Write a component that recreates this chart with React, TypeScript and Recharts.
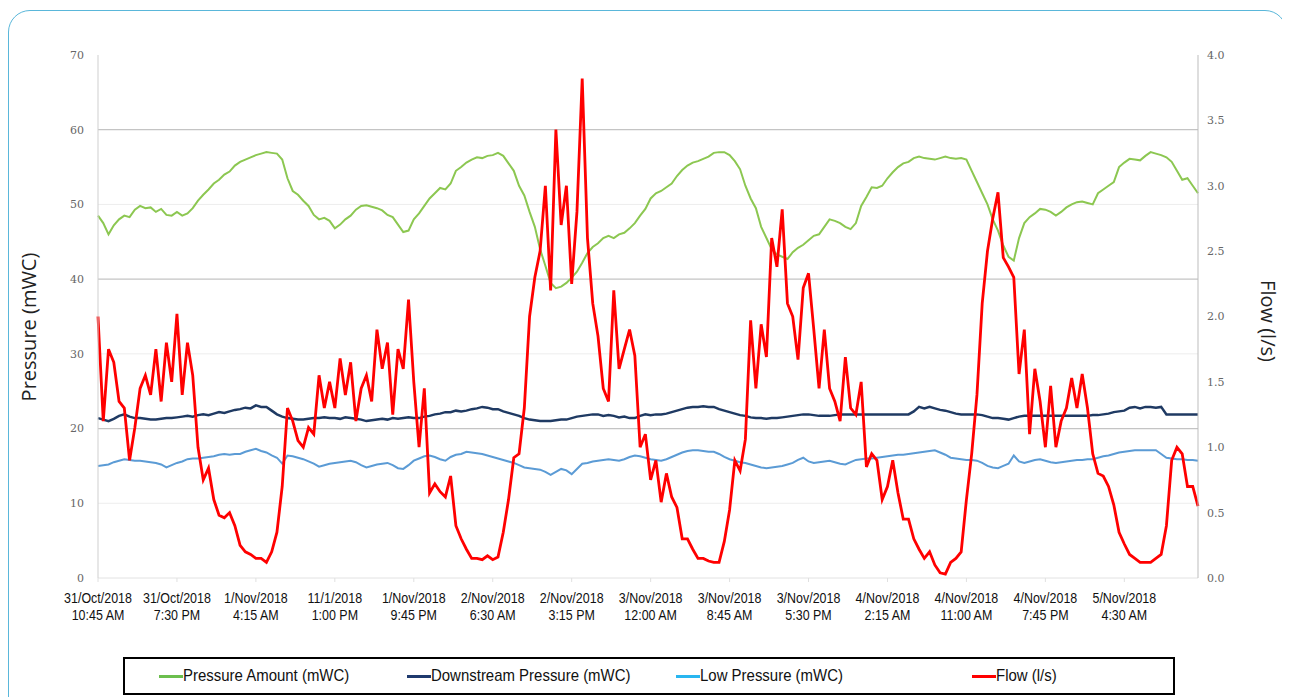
import React from 'react';
import { LineChart, Line, XAxis, YAxis, ReferenceLine } from 'recharts';

// one sample every 35 minutes, starting 31/Oct/2018 10:45 AM
const PRESSURE = [
  48.5, 47.5, 46.0, 47.2, 48.0, 48.5, 48.3, 49.3, 49.8, 49.5,
  49.6, 49.0, 49.4, 48.6, 48.5, 49.0, 48.5, 48.8, 49.5, 50.5,
  51.3, 52.0, 52.8, 53.3, 54.0, 54.4, 55.2, 55.7, 56.0, 56.3,
  56.6, 56.8, 57.0, 56.9, 56.8, 56.0, 53.5, 51.8, 51.3, 50.5,
  49.8, 48.6, 48.0, 48.2, 47.8, 46.8, 47.3, 48.0, 48.5, 49.3,
  49.8, 49.9, 49.7, 49.5, 49.2, 48.6, 48.3, 47.3, 46.3, 46.5,
  48.0, 48.8, 49.8, 50.8, 51.5, 52.2, 52.0, 52.8, 54.5, 55.0,
  55.6, 56.0, 56.3, 56.2, 56.5, 56.6, 56.9, 56.5, 55.5, 54.5,
  52.5, 51.2, 49.0, 47.0, 44.0, 41.8, 39.5, 38.8, 39.0, 39.5,
  40.2, 41.0, 42.2, 43.5, 44.3, 44.8, 45.5, 45.8, 45.5, 46.0,
  46.2, 46.8, 47.5, 48.5, 49.4, 50.8, 51.5, 51.8, 52.3, 52.8,
  53.8, 54.6, 55.2, 55.6, 55.8, 56.1, 56.4, 56.9, 57.0, 57.0,
  56.6, 55.8, 54.7, 52.5, 50.8, 49.5, 47.0, 45.5, 44.0, 43.3,
  43.0, 42.7, 43.6, 44.2, 44.6, 45.2, 45.8, 46.0, 47.0, 48.0,
  47.8, 47.5, 47.0, 46.7, 47.5, 49.8, 51.0, 52.3, 52.2, 52.5,
  53.5, 54.3, 55.0, 55.5, 55.7, 56.2, 56.4, 56.2, 56.1, 56.0,
  56.2, 56.4, 56.2, 56.1, 56.2, 56.0, 54.5, 53.0, 51.5, 50.0,
  48.0, 46.5, 44.5, 43.0, 42.5, 45.5, 47.5, 48.3, 48.8, 49.4,
  49.3, 49.0, 48.5, 49.0, 49.6, 50.0, 50.3, 50.4, 50.2, 50.0,
  51.5, 52.0, 52.5, 53.0, 55.0, 55.6, 56.1, 56.0, 55.9, 56.5,
  57.0, 56.8, 56.6, 56.3, 55.7, 54.5, 53.3, 53.5, 52.5, 51.5,
];

const DOWNSTREAM = [
  21.4, 21.2, 21.0, 21.3, 21.7, 21.9, 21.6, 21.4, 21.4, 21.3,
  21.2, 21.2, 21.3, 21.4, 21.4, 21.5, 21.6, 21.7, 21.6, 21.8,
  21.9, 21.8, 22.0, 22.2, 22.1, 22.3, 22.5, 22.6, 22.8, 22.7,
  23.1, 22.9, 22.9, 22.4, 21.9, 21.6, 21.4, 21.3, 21.2, 21.2,
  21.3, 21.4, 21.4, 21.5, 21.4, 21.4, 21.3, 21.5, 21.4, 21.3,
  21.2, 21.0, 21.1, 21.2, 21.3, 21.2, 21.4, 21.3, 21.4, 21.5,
  21.4, 21.4, 21.6, 21.7, 21.9, 22.0, 22.2, 22.2, 22.4, 22.3,
  22.4, 22.6, 22.7, 22.9, 22.8, 22.6, 22.6, 22.3, 22.1, 21.9,
  21.7, 21.4, 21.2, 21.1, 21.0, 21.0, 21.0, 21.1, 21.2, 21.2,
  21.4, 21.6, 21.7, 21.8, 21.9, 21.9, 21.7, 21.8, 21.7, 21.5,
  21.6, 21.4, 21.4, 21.7, 21.9, 21.8, 21.9, 21.9, 22.0, 22.2,
  22.4, 22.6, 22.8, 22.9, 22.9, 23.0, 22.9, 22.9, 22.6, 22.4,
  22.2, 22.0, 21.8, 21.7, 21.5, 21.4, 21.4, 21.3, 21.4, 21.4,
  21.5, 21.6, 21.7, 21.8, 21.9, 21.9, 21.8, 21.7, 21.7, 21.7,
  21.8, 21.9, 21.9, 21.9, 21.9, 21.9, 21.9, 21.9, 21.9, 21.9,
  21.9, 21.9, 21.9, 21.9, 21.9, 22.3, 22.9, 22.7, 22.9, 22.7,
  22.5, 22.4, 22.2, 22.0, 21.9, 21.9, 21.9, 21.9, 21.8, 21.6,
  21.4, 21.4, 21.3, 21.2, 21.4, 21.6, 21.7, 21.7, 21.7, 21.7,
  21.7, 21.7, 21.7, 21.7, 21.7, 21.7, 21.7, 21.7, 21.7, 21.8,
  21.8, 21.9, 22.0, 22.2, 22.3, 22.4, 22.8, 22.9, 22.7, 22.9,
  22.9, 22.8, 22.9, 21.9, 21.9, 21.9, 21.9, 21.9, 21.9, 21.9,
];

const LOW = [
  15.0, 15.1, 15.2, 15.5, 15.7, 15.9, 15.8, 15.7, 15.7, 15.6,
  15.5, 15.4, 15.2, 14.8, 15.1, 15.4, 15.6, 15.9, 16.0, 16.0,
  16.1, 16.2, 16.3, 16.5, 16.6, 16.5, 16.6, 16.6, 16.9, 17.1,
  17.3, 17.0, 16.8, 16.4, 16.1, 15.3, 16.4, 16.3, 16.1, 15.9,
  15.6, 15.3, 14.9, 15.1, 15.3, 15.4, 15.5, 15.6, 15.7, 15.5,
  15.1, 14.8, 15.0, 15.2, 15.3, 15.4, 15.1, 14.7, 14.6, 15.1,
  15.7, 16.0, 16.3, 16.4, 16.2, 15.9, 15.7, 16.2, 16.5, 16.6,
  16.9, 16.8, 16.7, 16.6, 16.4, 16.2, 16.0, 15.8, 15.6, 15.4,
  15.1, 14.8, 14.7, 14.6, 14.5, 14.2, 13.8, 14.2, 14.6, 14.4,
  13.9, 14.6, 15.3, 15.4, 15.6, 15.7, 15.8, 15.9, 15.8, 15.7,
  15.9, 16.2, 16.4, 16.3, 16.1, 15.9, 15.8, 15.7, 15.9, 16.2,
  16.5, 16.8, 17.0, 17.1, 17.1, 17.0, 16.9, 16.9, 16.6, 16.2,
  15.9, 15.7, 15.5, 15.4, 15.2, 15.0, 14.8, 14.7, 14.8, 14.9,
  15.0, 15.2, 15.4, 15.8, 16.1, 15.6, 15.4, 15.5, 15.6, 15.7,
  15.5, 15.3, 15.2, 15.5, 15.8, 15.9, 16.0, 16.0, 16.1, 16.2,
  16.3, 16.4, 16.5, 16.5, 16.6, 16.7, 16.8, 16.9, 17.0, 17.1,
  16.8, 16.5, 16.1, 16.0, 15.9, 15.8, 15.8, 15.7, 15.4, 15.0,
  14.8, 14.7, 15.0, 15.3, 16.4, 15.6, 15.4, 15.6, 15.8, 15.9,
  15.7, 15.5, 15.4, 15.5, 15.6, 15.7, 15.8, 15.8, 15.9, 15.9,
  16.1, 16.3, 16.4, 16.6, 16.8, 16.9, 17.0, 17.1, 17.1, 17.1,
  17.1, 17.1, 16.6, 16.1, 16.0, 15.9, 15.9, 15.8, 15.8, 15.7,
];

const FLOW = [
  2.0, 1.2, 1.75, 1.65, 1.35, 1.3, 0.9, 1.15, 1.45, 1.55,
  1.4, 1.75, 1.35, 1.8, 1.5, 2.02, 1.4, 1.8, 1.55, 1.0,
  0.75, 0.84, 0.6, 0.48, 0.46, 0.5, 0.4, 0.25, 0.2, 0.18,
  0.15, 0.15, 0.12, 0.2, 0.35, 0.7, 1.3, 1.2, 1.05, 1.0,
  1.15, 1.1, 1.55, 1.3, 1.5, 1.3, 1.68, 1.4, 1.65, 1.2,
  1.45, 1.55, 1.35, 1.9, 1.6, 1.8, 1.25, 1.75, 1.6, 2.13,
  1.5, 1.0, 1.45, 0.65, 0.72, 0.66, 0.62, 0.78, 0.4, 0.3,
  0.22, 0.15, 0.15, 0.14, 0.17, 0.14, 0.16, 0.35, 0.6, 0.92,
  0.95, 1.3, 2.0, 2.3, 2.5, 3.0, 2.2, 3.43, 2.7, 3.0,
  2.25, 2.8, 3.82, 2.6, 2.1, 1.85, 1.45, 1.35, 2.2, 1.6,
  1.75, 1.9, 1.7, 1.0, 1.1, 0.75, 0.9, 0.58, 0.8, 0.62,
  0.54, 0.3, 0.3, 0.22, 0.15, 0.15, 0.13, 0.12, 0.12, 0.28,
  0.52, 0.9, 0.82, 1.06, 1.97, 1.45, 1.94, 1.69, 2.6, 2.38,
  2.82, 2.1, 2.0, 1.67, 2.22, 2.33, 1.9, 1.45, 1.9, 1.45,
  1.35, 1.2, 1.69, 1.3, 1.25, 1.5, 0.85, 0.95, 0.9, 0.6,
  0.7, 0.9, 0.65, 0.45, 0.45, 0.3, 0.22, 0.15, 0.2, 0.1,
  0.04, 0.03, 0.12, 0.15, 0.2, 0.6, 0.95, 1.4, 2.1, 2.5,
  2.75, 2.95, 2.45, 2.38, 2.3, 1.56, 1.9, 1.1, 1.6, 1.35,
  1.0, 1.47, 1.0, 1.2, 1.3, 1.53, 1.3, 1.56, 1.3, 0.95,
  0.8, 0.78, 0.7, 0.56, 0.35, 0.26, 0.18, 0.15, 0.12, 0.12,
  0.12, 0.15, 0.18, 0.4, 0.9, 1.0, 0.95, 0.7, 0.7, 0.55,
];

const TICK_DATES = [
  '31/Oct/2018', '31/Oct/2018', '1/Nov/2018', '11/1/2018', '1/Nov/2018', '2/Nov/2018', '2/Nov/2018',
  '3/Nov/2018', '3/Nov/2018', '3/Nov/2018', '4/Nov/2018', '4/Nov/2018', '4/Nov/2018', '5/Nov/2018',
];
const TICK_TIMES = [
  '10:45 AM', '7:30 PM', '4:15 AM', '1:00 PM', '9:45 PM', '6:30 AM', '3:15 PM',
  '12:00 AM', '8:45 AM', '5:30 PM', '2:15 AM', '11:00 AM', '7:45 PM', '4:30 AM',
];
const STEPS_PER_TICK = 15;

const PRESSURE_TICKS = [0, 10, 20, 30, 40, 50, 60, 70];
const FLOW_TICKS = [0, 0.5, 1, 1.5, 2, 2.5, 3, 3.5, 4];
const MAJOR_LINES = [20, 40, 60];
const MINOR_LINES = [10, 30, 50];

const SERIES = [
  { key: 'p', name: 'Pressure Amount (mWC)', color: '#8cc751', legend: '#6cbf4e', axis: 'left', width: 2 },
  { key: 'd', name: 'Downstream Pressure (mWC)', color: '#1f3a63', legend: '#1f3a6e', axis: 'left', width: 2.5 },
  { key: 'l', name: 'Low Pressure (mWC)', color: '#5b9bd5', legend: '#29b6f0', axis: 'left', width: 2 },
  { key: 'f', name: 'Flow (l/s)', color: '#ff0000', legend: '#ff0000', axis: 'right', width: 2.8 },
];

const data = PRESSURE.map((p, i) => ({
  i,
  p,
  d: DOWNSTREAM[i],
  l: LOW[i],
  f: FLOW[i],
}));

const xTicks = TICK_DATES.map((_, k) => k * STEPS_PER_TICK);

const sans = "'Liberation Sans', Arial, sans-serif";

function TimeTick(props: any) {
  const { x, y, payload } = props;
  const k = Math.round(payload.value / STEPS_PER_TICK);
  // the source uses a condensed face; squeeze a regular one horizontally
  return (
    <g transform={`translate(${x},${y}) scale(0.86,1)`}>
      <text textAnchor="middle" fontFamily={sans} fontSize={14.5} fill="#111">
        <tspan x={0} dy={19}>{TICK_DATES[k]}</tspan>
        <tspan x={0} dy={17}>{TICK_TIMES[k]}</tspan>
      </text>
    </g>
  );
}

const legendPos = [34, 282, 551, 847];

export default function App() {
  return (
    <div style={{ position: 'relative', width: 1282, height: 689, overflow: 'hidden', background: '#fff' }}>
      <div
        style={{
          position: 'absolute',
          left: 0,
          top: 2,
          width: 1279,
          height: 760,
          border: '1.5px solid #5ab7da',
          borderRadius: 22,
          boxSizing: 'border-box',
        }}
      />
      <div style={{ position: 'absolute', left: 0, top: 0 }}>
        <LineChart width={1270} height={625} data={data} margin={{ top: 47, right: 0, bottom: 0, left: 0 }}>
          {MINOR_LINES.map((v) => (
            <ReferenceLine key={`mn${v}`} yAxisId="left" y={v} stroke="#ededed" strokeWidth={1} />
          ))}
          {MAJOR_LINES.map((v) => (
            <ReferenceLine key={`mj${v}`} yAxisId="left" y={v} stroke="#c4c4c4" strokeWidth={1.2} />
          ))}
          <XAxis
            dataKey="i"
            type="number"
            domain={[0, PRESSURE.length - 1]}
            ticks={xTicks}
            interval={0}
            tick={<TimeTick />}
            axisLine={{ stroke: '#e2e2e2' }}
            tickLine={{ stroke: '#e0e0e0' }}
            tickSize={4}
            tickMargin={2}
            height={55}
          />
          <YAxis
            yAxisId="left"
            orientation="left"
            domain={[0, 70]}
            ticks={PRESSURE_TICKS}
            width={90}
            axisLine={{ stroke: '#cfcfcf' }}
            tickLine={false}
            tickSize={0}
            tickMargin={14}
            tick={{ fontSize: 11, fill: '#666', fontFamily: "'DejaVu Serif', serif" }}
          />
          <YAxis
            yAxisId="right"
            orientation="right"
            domain={[0, 4]}
            ticks={FLOW_TICKS}
            tickFormatter={(v: number) => v.toFixed(1)}
            width={80}
            axisLine={{ stroke: '#bdbdbd' }}
            tickLine={false}
            tickSize={0}
            tickMargin={9}
            tick={{ fontSize: 11, fill: '#666', fontFamily: "'DejaVu Serif', serif" }}
          />
          {SERIES.map((s) => (
            <Line
              key={s.key}
              yAxisId={s.axis}
              dataKey={s.key}
              name={s.name}
              type="linear"
              stroke={s.color}
              strokeWidth={s.width}
              dot={false}
              isAnimationActive={false}
            />
          ))}
        </LineChart>
      </div>
      <div
        style={{
          position: 'absolute',
          left: 20,
          top: 319,
          transform: 'translate(-50%, -50%) rotate(-90deg)',
          fontFamily: "'Open Sans', sans-serif",
          fontSize: 20,
          color: '#222',
          whiteSpace: 'nowrap',
        }}
      >
        Pressure (mWC)
      </div>
      <div
        style={{
          position: 'absolute',
          left: 1260,
          top: 313,
          transform: 'translate(-50%, -50%) rotate(90deg)',
          fontFamily: "'Open Sans', sans-serif",
          fontSize: 20,
          color: '#222',
          whiteSpace: 'nowrap',
        }}
      >
        Flow (l/s)
      </div>
      <div
        style={{
          position: 'absolute',
          left: 115,
          top: 649,
          width: 1052,
          height: 38,
          border: '2px solid #000',
          boxSizing: 'border-box',
          background: '#fff',
        }}
      >
        {SERIES.map((s, k) => (
          <div
            key={s.key}
            style={{
              position: 'absolute',
              left: legendPos[k],
              top: 0,
              height: 34,
              display: 'flex',
              alignItems: 'center',
              fontFamily: sans,
              fontSize: 17,
              color: '#111',
              whiteSpace: 'nowrap',
            }}
          >
            <span style={{ display: 'inline-block', width: 24, height: 3, background: s.legend }} />
            <span style={{ display: 'inline-block', transform: 'scaleX(0.88)', transformOrigin: 'left center' }}>
              {s.name}
            </span>
          </div>
        ))}
      </div>
    </div>
  );
}
